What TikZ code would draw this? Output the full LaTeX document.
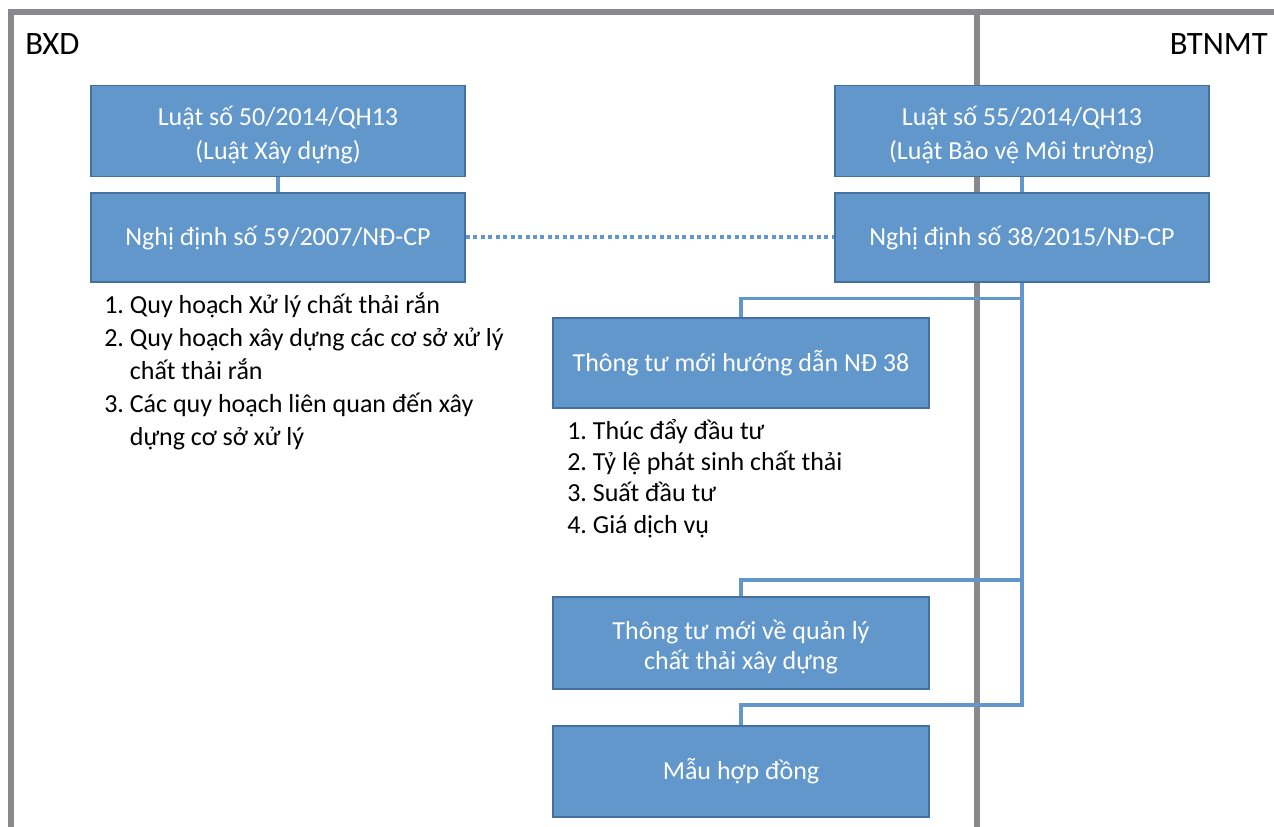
\documentclass[tikz,border=0pt]{standalone}
\usepackage{fontspec}
\setmainfont{Carlito}
\usetikzlibrary{calc}

\definecolor{boxfill}{RGB}{97,151,202}
\definecolor{boxline}{RGB}{68,112,160}
\definecolor{frame}{RGB}{136,136,141}

\newcommand{\topstrut}{\rule{0pt}{21pt}}

\tikzset{
  lawbox/.style={draw=boxline,fill=boxfill,line width=1.2pt,text=white,
    minimum width=280.5pt,minimum height=68pt,align=center,inner sep=0pt,
    font=\fontsize{19.5}{25.5}\selectfont},
  link/.style={draw=boxfill,line width=2.4pt},
  frameline/.style={draw=frame,line width=3.8pt},
  itemlist/.style={align=left,inner sep=0pt,font=\fontsize{19.5}{24.75}\selectfont}
}

\begin{document}
\begin{tikzpicture}[x=0.75pt,y=-0.75pt]
  \useasboundingbox (0,0) rectangle (1274,827);

  % outer frame
  \draw[frameline] (11,827) -- (11,12) -- (1274,12);
  \draw[frameline] (977,12) -- (977,827);
  \node[anchor=west,inner sep=0pt,font=\fontsize{24.5}{28}\selectfont] (bxd) at (25,44) {BXD};
  \node[anchor=east,inner sep=0pt,font=\fontsize{24.5}{28}\selectfont] (btnmt) at (1268,44) {BTNMT};

  % left column
  \node[lawbox] (luat-xd) at (278,131) {\topstrut Luật số 50/2014/QH13\\(Luật Xây dựng)};
  \node[lawbox,minimum height=66.75pt] (nd-59) at (278,237.5) {Nghị định số 59/2007/NĐ-CP};
  \draw[link] (luat-xd) -- (nd-59);
  \node[itemlist,anchor=north west] (ds-xd) at (104,290) {%
    \begin{tabular}{@{}r@{\ }l@{}}
      1.&Quy hoạch Xử lý chất thải rắn\\
      2.&Quy hoạch xây dựng các cơ sở xử lý\\
        &chất thải rắn\\
      3.&Các quy hoạch liên quan đến xây\\
        &dựng cơ sở xử lý
    \end{tabular}};

  % right column
  \node[lawbox] (luat-bvmt) at (1022,131) {\topstrut Luật số 55/2014/QH13\\(Luật Bảo vệ Môi trường)};
  \node[lawbox,minimum height=66.75pt] (nd-38) at (1022,237.5) {Nghị định số 38/2015/NĐ-CP};
  \draw[link] (luat-bvmt) -- (nd-38);
  \draw[draw=boxfill,line width=3pt,dash pattern=on 3pt off 2.6pt] (nd-59) -- (nd-38);

  % circulars
  \node[lawbox,minimum width=282pt,minimum height=67.5pt] (tt-hd) at (741,363) {Thông tư mới hướng dẫn NĐ 38};
  \node[itemlist,anchor=north west,font=\fontsize{19.5}{23.5}\selectfont] (ds-hd) at (567,417) {%
    \begin{tabular}{@{}r@{\ }l@{}}
      1.&Thúc đẩy đầu tư\\
      2.&Tỷ lệ phát sinh chất thải\\
      3.&Suất đầu tư\\
      4.&Giá dịch vụ
    \end{tabular}};
  \node[lawbox,minimum width=282pt,minimum height=69pt,font=\fontsize{19.5}{22.5}\selectfont]
    (tt-ctxd) at (741,643) {\topstrut Thông tư mới về quản lý\\chất thải xây dựng};
  \node[lawbox,minimum width=282pt,minimum height=68.25pt] (mau-hd) at (741,771.5) {Mẫu hợp đồng};

  \coordinate (bus-end) at (1022,705);
  \draw[link] (nd-38.south) -- (bus-end) -| (mau-hd.north);
  \draw[link] (nd-38.south) ++(0,16) -| (tt-hd.north);
  \draw[link] (1022,580) -| (tt-ctxd.north);
\end{tikzpicture}
\end{document}
